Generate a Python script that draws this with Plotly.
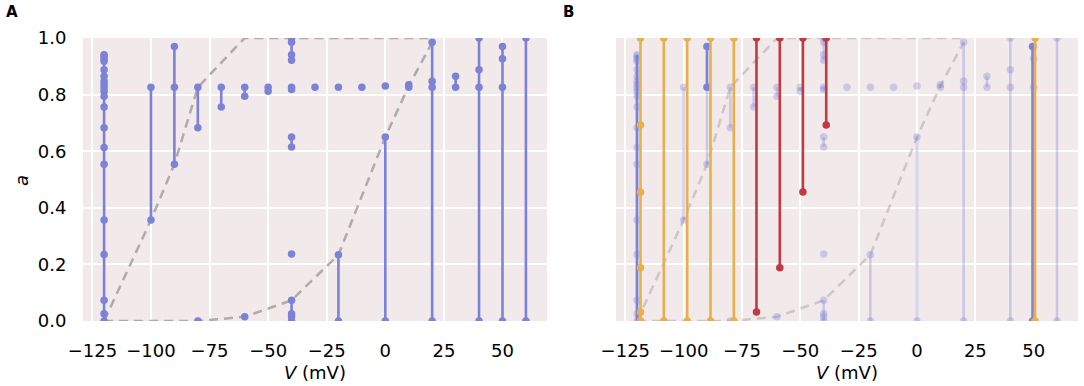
import plotly.graph_objects as go

# ---------------- data ----------------
# background measurement groups: voltage (mV) and the open-probability values a
seg_V = [-120, -100, -90, -80, -80, -70, -60, -60, -50,
         -40, -40, -40, -40, -40, -30, -20, -20, -10, 0, 0,
         10, 20, 30, 40, 50, 60]
seg_a = [
    [0.941, 0.935, 0.926, 0.918, 0.888, 0.865, 0.847, 0.836, 0.824, 0.812,
     0.794, 0.756, 0.683, 0.613, 0.554, 0.357, 0.235, 0.073, 0.026, 0.0],
    [0.826, 0.357],
    [0.970, 0.826, 0.554],
    [0.826, 0.683],
    [0.0],
    [0.826, 0.756],
    [0.826, 0.794],
    [0.015],
    [0.826, 0.812],
    [1.0, 0.985, 0.941, 0.921],
    [0.826, 0.818],
    [0.650, 0.615],
    [0.237],
    [0.073, 0.026, 0.015, 0.0],
    [0.826],
    [0.826],
    [0.234, 0.0],
    [0.826],
    [0.830],
    [0.650, 0.0],
    [0.835, 0.826],
    [0.985, 0.847, 0.826, 0.0],
    [0.865, 0.826],
    [1.0, 0.888, 0.826, 0.0],
    [0.970, 0.927, 0.826, 0.0],
    [1.0, 0.0],
]

# dashed envelope curves
upper_V = [-120, -100, -90, -80, -60, 20]
upper_a = [0.0, 0.357, 0.554, 0.826, 1.0, 1.0]
lower_V = [-120, -80, -60, -40, -20, 0, 10, 20]
lower_a = [0.0, 0.0, 0.015, 0.073, 0.234, 0.650, 0.830, 0.985]

# highlighted groups in panel B
blue_V = [-120, -90, 49.5]
blue_a = [[0.94, 0.0], [0.970, 0.826], [0.970, 0.0]]
orange_V = [-118.5, -108.5, -98.5, -88.5, -78.5, 50.6]
orange_a = [[1.0, 0.693, 0.455, 0.188, 0.032, 0.0], [1.0, 0.0], [1.0, 0.0],
            [1.0, 0.0], [1.0, 0.0], [1.0, 0.0]]
red_V = [-68.8, -58.8, -48.9, -38.9]
red_a = [[1.0, 0.032], [1.0, 0.188], [1.0, 0.456], [1.0, 0.693]]

x_ticks = [-125, -100, -75, -50, -25, 0, 25, 50]
y_ticks = [0.0, 0.2, 0.4, 0.6, 0.8, 1.0]

# ---------------- style ----------------
FONT = "DejaVu Sans"
BLUE = "rgb(124,130,213)"
BLUE_FADED = "rgba(124,130,213,0.33)"
ORANGE = "rgb(232,176,74)"
RED = "rgb(196,56,64)"
GRAY = "rgba(165,159,160,0.85)"
GRAY_FADED = "rgba(165,159,160,0.48)"
BG = "rgb(242,233,235)"

fig = go.Figure()


def add_group(xref, yref, V, a, color, width=2.6, size=7.5, show_markers=True):
    fig.add_trace(go.Scatter(
        x=[V] * len(a), y=a, xaxis=xref, yaxis=yref,
        mode="lines+markers" if show_markers else "lines",
        line=dict(color=color, width=width),
        marker=dict(color=color, size=size),
        showlegend=False, hoverinfo="skip"))


# Panel A
for V_, y_ in [(upper_V, upper_a), (lower_V, lower_a)]:
    fig.add_trace(go.Scatter(x=V_, y=y_, xaxis="x", yaxis="y", mode="lines",
                             line=dict(color=GRAY, width=2.5, dash="9px,6px"),
                             showlegend=False, hoverinfo="skip"))
for V, a in zip(seg_V, seg_a):
    add_group("x", "y", V, a, BLUE)

# Panel B
for V_, y_ in [(upper_V, upper_a), (lower_V, lower_a)]:
    fig.add_trace(go.Scatter(x=V_, y=y_, xaxis="x2", yaxis="y2", mode="lines",
                             line=dict(color=GRAY_FADED, width=2.5, dash="9px,6px"),
                             showlegend=False, hoverinfo="skip"))
for V, a in zip(seg_V, seg_a):
    add_group("x2", "y2", V, a, BLUE_FADED)
for i, (V, a) in enumerate(zip(blue_V, blue_a)):
    add_group("x2", "y2", V, a, BLUE, show_markers=(i != 0))
for V, a in zip(orange_V, orange_a):
    add_group("x2", "y2", V, a, ORANGE)
for V, a in zip(red_V, red_a):
    add_group("x2", "y2", V, a, RED)

W, H = 1084, 386
top_px, bot_px = 38, 321
ydom = [1 - bot_px / H, 1 - top_px / H]

xaxis_common = dict(
    range=[-129, 69], tickmode="array", tickvals=x_ticks,
    ticktext=[("\u2212" + str(-t)) if t < 0 else str(t) for t in x_ticks],
    showgrid=True, gridcolor="white", gridwidth=1.6, zeroline=False,
    showline=False, ticks="outside", ticklen=13, tickcolor="rgba(0,0,0,0)",
    tickfont=dict(family=FONT, size=18, color="black"), automargin=False,
    title=dict(text="<i>V</i> (mV)", font=dict(family=FONT, size=18, color="black"),
               standoff=6),
)
yaxis_common = dict(
    range=[0, 1], tickmode="array", tickvals=y_ticks,
    showgrid=True, gridcolor="white", gridwidth=1.6, zeroline=False,
    showline=False, ticks="outside", ticklen=12, tickcolor="rgba(0,0,0,0)",
    tickfont=dict(family=FONT, size=18, color="black"), automargin=False,
    domain=ydom,
)

fig.update_layout(
    width=W, height=H,
    margin=dict(l=0, r=0, t=0, b=0, pad=0, autoexpand=False),
    paper_bgcolor="white", plot_bgcolor=BG,
    xaxis=dict(domain=[83 / W, 547 / W], anchor="y", **xaxis_common),
    yaxis=dict(anchor="x", ticktext=[f"{t:.1f}" for t in y_ticks], **yaxis_common),
    xaxis2=dict(domain=[616 / W, 1078 / W], anchor="y2", **xaxis_common),
    yaxis2=dict(anchor="x2", showticklabels=False, **yaxis_common),
    annotations=[
        dict(text="<b>A</b>", x=4 / W, y=1 - 12 / H, xref="paper", yref="paper",
             xanchor="left", yanchor="middle", showarrow=False,
             font=dict(family=FONT, size=15, color="black")),
        dict(text="<b>B</b>", x=561 / W, y=1 - 12 / H, xref="paper", yref="paper",
             xanchor="left", yanchor="middle", showarrow=False,
             font=dict(family=FONT, size=15, color="black")),
        dict(text="<i>a</i>", x=21 / W, y=1 - 181 / H, xref="paper", yref="paper",
             xanchor="center", yanchor="middle", showarrow=False, textangle=-90,
             font=dict(family=FONT, size=18, color="black")),
    ],
)

fig.write_html("out.html", config={"displayModeBar": False},
               post_script="document.body.style.margin='0';document.body.style.overflow='hidden';")
